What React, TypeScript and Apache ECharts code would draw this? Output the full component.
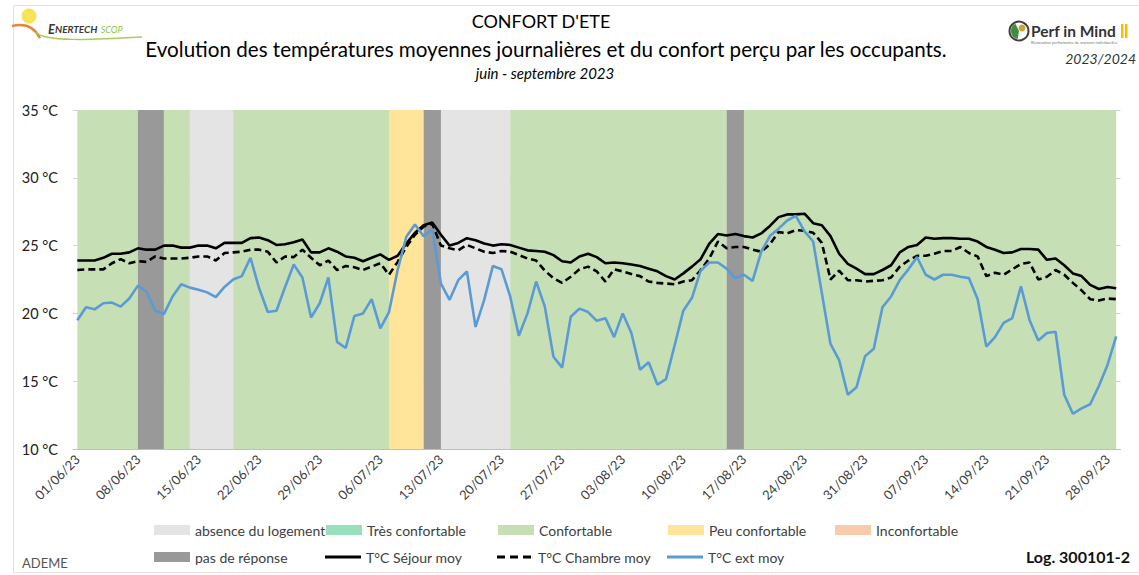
import React, { useEffect, useRef } from "react";
import * as echarts from "echarts";

// ---- data ----
const START = Date.UTC(2023, 5, 1);
const DAY_COUNT = 121;
const categories: string[] = Array.from({ length: DAY_COUNT }, (_, i) => {
  const d = new Date(START + i * 86400000);
  const dd = String(d.getUTCDate()).padStart(2, "0");
  const mm = String(d.getUTCMonth() + 1).padStart(2, "0");
  return `${dd}/${mm}/23`;
});

const sejour = [
  23.9, 23.9, 23.9, 24.1, 24.4, 24.4, 24.5, 24.8, 24.7, 24.7,
  25.0, 25.0, 24.85, 24.85, 25.0, 25.0, 24.8, 25.2, 25.2, 25.2,
  25.55, 25.6, 25.4, 25.05, 25.1, 25.25, 25.45, 24.5, 24.5, 24.8,
  24.55, 24.2, 24.1, 23.85, 24.1, 24.35, 23.95, 24.25, 25.15, 25.95,
  26.5, 26.7, 25.8, 25.0, 25.2, 25.55, 25.4, 25.15, 25.0, 25.1,
  25.05, 24.85, 24.65, 24.6, 24.55, 24.3, 23.85, 23.75, 24.2, 24.4,
  24.15, 23.7, 23.75, 23.7, 23.6, 23.5, 23.3, 23.1, 22.75, 22.5,
  22.95, 23.45, 24.0, 25.15, 25.85, 25.75, 25.85, 25.7, 25.6, 25.9,
  26.45, 27.1, 27.3, 27.3, 27.35, 26.65, 26.5, 25.7, 24.4, 23.65,
  23.3, 22.9, 22.9, 23.2, 23.55, 24.5, 24.9, 25.05, 25.6, 25.5,
  25.55, 25.55, 25.5, 25.5, 25.3, 24.9, 24.7, 24.45, 24.5, 24.75,
  24.75, 24.7, 23.95, 24.05, 23.55, 22.95, 22.75, 22.1, 21.8, 21.95, 21.85,
];
const chambre = [
  23.2, 23.25, 23.25, 23.25, 23.7, 24.0, 23.7, 23.85, 23.8, 24.2,
  24.05, 24.05, 24.05, 24.1, 24.2, 24.2, 23.9, 24.45, 24.5, 24.55,
  24.7, 24.7, 24.55, 23.75, 24.2, 24.15, 24.7, 24.1, 23.55, 23.9,
  23.2, 23.5, 23.4, 23.2, 23.45, 23.7, 22.85, 23.8, 24.9, 25.8,
  26.4, 26.6, 25.0, 24.8, 24.65, 25.05, 24.8, 24.55, 24.45, 24.6,
  24.55, 24.3, 24.05, 23.9, 23.15, 22.6, 22.25, 22.7, 23.25, 23.45,
  23.1, 22.35, 23.25, 23.1, 22.9, 22.75, 22.35, 22.25, 22.2, 22.15,
  22.35, 22.45, 23.2, 24.05, 25.3, 24.8, 24.9, 24.9, 24.7, 24.55,
  25.1, 26.0, 25.9, 26.15, 26.1, 25.95, 25.2, 22.5, 23.15, 22.45,
  22.45, 22.35, 22.4, 22.45, 22.65, 23.45, 23.9, 24.25, 24.25, 24.4,
  24.6, 24.6, 24.9, 24.45, 24.2, 22.75, 23.0, 22.85, 23.25, 23.65,
  23.75, 22.5, 22.7, 23.2, 22.85, 22.25, 21.7, 21.05, 20.95, 21.1, 21.05,
];
const exterieur = [
  19.5, 20.45, 20.3, 20.75, 20.8, 20.5, 21.1, 22.05, 21.6, 20.2,
  19.95, 21.25, 22.15, 21.9, 21.75, 21.55, 21.2, 21.95, 22.5, 22.75,
  24.1, 21.85, 20.1, 20.2, 21.95, 23.6, 22.65, 19.7, 20.75, 22.65,
  17.9, 17.45, 19.8, 20.0, 21.05, 18.9, 20.1, 23.2, 25.65, 26.55,
  25.7, 26.2, 22.2, 21.0, 22.45, 23.1, 19.0, 21.0, 23.5, 23.25,
  21.25, 18.35, 20.0, 22.35, 20.5, 16.8, 16.0, 19.75, 20.35, 20.1,
  19.45, 19.65, 18.25, 20.0, 18.55, 15.85, 16.4, 14.75, 15.15, 17.65,
  20.2, 21.15, 23.15, 23.75, 23.75, 23.3, 22.6, 22.85, 22.4, 24.55,
  25.7, 26.25, 26.85, 27.2, 26.05, 25.3, 21.5, 17.75, 16.55, 14.0,
  14.55, 16.85, 17.4, 20.45, 21.25, 22.45, 23.25, 24.15, 22.85, 22.5,
  22.85, 22.85, 22.7, 22.6, 21.05, 17.55, 18.25, 19.3, 19.65, 22.0,
  19.5, 18.0, 18.55, 18.65, 14.0, 12.6, 13.0, 13.3, 14.65, 16.2, 18.3,
];

// comfort bands (from date -> to date)
const bandTypes = [
  "Confortable", "pas de réponse", "Confortable", "absence du logement", "Confortable",
  "Peu confortable", "pas de réponse", "absence du logement", "Confortable", "pas de réponse", "Confortable",
];
const bandStarts = [
  "01/06/23", "08/06/23", "11/06/23", "14/06/23", "19/06/23",
  "07/07/23", "11/07/23", "13/07/23", "21/07/23", "15/08/23", "17/08/23",
];
const bandEnds = [
  "08/06/23", "11/06/23", "14/06/23", "19/06/23", "07/07/23",
  "11/07/23", "13/07/23", "21/07/23", "15/08/23", "17/08/23", "29/09/23",
];

const yTicks = { min: 10, max: 35, interval: 5 };

const comfortNames = [
  "absence du logement", "Très confortable", "Confortable", "Peu confortable", "Inconfortable", "pas de réponse",
];
const comfortColors = ["#E4E4E4", "#9ADFBC", "#C6DFB5", "#FFE599", "#F8CBAD", "#999999"];

const FONT = 'Lato, "Noto Sans", "DejaVu Sans", sans-serif';
const TXT = "#404040";

const SOLID_ICON = "path://M0,0H36V3H0Z";
const DASH_ICON = "path://M0,0H8V3H0Z M13,0H21V3H13Z M26,0H34V3H26Z M35.9,0H36V3H35.9Z";

export default function App() {
  const ref = useRef<HTMLDivElement>(null);
  useEffect(() => {
    document.body.style.margin = "0";
    if (!ref.current) return;
    const chart = echarts.init(ref.current, undefined, { renderer: "svg" });

    const bandSeries = comfortNames.map((name, k) => ({
      name,
      type: "line",
      z: -1,
      data: [] as number[],
      symbol: "none",
      itemStyle: { color: comfortColors[k] },
      lineStyle: { color: comfortColors[k] },
      markArea: {
        silent: true,
        itemStyle: { color: comfortColors[k], opacity: 1 },
        data: bandTypes
          .map((t, j) => ({ t, j }))
          .filter((o) => o.t === name)
          .map((o) => [{ xAxis: bandStarts[o.j] }, { xAxis: bandEnds[o.j] }]),
      },
    }));

    const legendPos: Record<string, [number, number]> = {
      "absence du logement": [154, 523],
      "Très confortable": [326, 523],
      Confortable: [498, 523],
      "Peu confortable": [668, 523],
      Inconfortable: [835, 523],
      "pas de réponse": [154, 550],
      "T°C Séjour moy": [325, 550],
      "T°C Chambre moy": [497, 550],
      "T°C ext moy": [667, 550],
    };
    const lineIcons: Record<string, string> = {
      "T°C Séjour moy": SOLID_ICON,
      "T°C Chambre moy": DASH_ICON,
      "T°C ext moy": SOLID_ICON,
    };
    const legends = Object.keys(legendPos).map((n) => {
      const isBand = comfortNames.includes(n);
      return {
        data: [n],
        left: legendPos[n][0],
        top: legendPos[n][1],
        padding: 0,
        itemWidth: 36,
        itemHeight: isBand ? 10 : 3,
        icon: isBand ? "rect" : lineIcons[n],
        textStyle: { fontFamily: FONT, fontSize: 14, color: TXT },
        selectedMode: false,
      };
    });

    chart.setOption({
      animation: false,
      grid: { left: 73, top: 110, width: 1047.5, height: 339, containLabel: false },
      legend: legends,
      xAxis: {
        type: "category",
        data: categories,
        boundaryGap: true,
        axisLine: { lineStyle: { color: "#BFBFBF" } },
        axisTick: { interval: 6, length: 5, lineStyle: { color: "#BFBFBF" } },
        axisLabel: {
          interval: 6,
          rotate: 45,
          margin: 8,
          fontFamily: FONT,
          fontSize: 13,
          color: TXT,
        },
        splitLine: { show: false },
      },
      yAxis: {
        type: "value",
        min: yTicks.min,
        max: yTicks.max,
        interval: yTicks.interval,
        axisLine: { show: false },
        axisTick: { show: false },
        axisLabel: { formatter: "{value} °C", fontFamily: FONT, fontSize: 14.5, color: "#202020", margin: 15 },
        splitLine: { lineStyle: { color: "rgba(90,90,90,0.28)", width: 1 } },
      },
      series: [
        ...bandSeries,
        {
          name: "T°C Séjour moy",
          type: "line",
          data: sejour,
          symbol: "none",
          lineStyle: { color: "#000000", width: 2.6 },
          itemStyle: { color: "#000000" },
        },
        {
          name: "T°C Chambre moy",
          type: "line",
          data: chambre,
          symbol: "none",
          lineStyle: { color: "#000000", width: 2.6, type: [7, 4] },
          itemStyle: { color: "#000000" },
        },
        {
          name: "T°C ext moy",
          type: "line",
          data: exterieur,
          symbol: "none",
          lineStyle: { color: "#5B9BD5", width: 2.6 },
          itemStyle: { color: "#5B9BD5" },
        },
      ],
      graphic: [
        { type: "rect", shape: { x: 13.5, y: 5.5, width: 1140, height: 567 }, style: { fill: "none", stroke: "#E2E2E2", lineWidth: 1 }, silent: true },
        // titles
        { type: "text", x: 541, y: 21, style: { text: "CONFORT D'ETE", fontFamily: FONT, fontSize: 18, fill: "#000", textAlign: "center", textVerticalAlign: "middle" } },
        { type: "text", x: 546, y: 49, style: { text: "Evolution des températures moyennes journalières et du confort perçu par les occupants.", fontFamily: FONT, fontSize: 20.6, fill: "#000", textAlign: "center", textVerticalAlign: "middle" } },
        { type: "text", x: 545, y: 73, style: { text: "juin - septembre 2023", fontFamily: FONT, fontSize: 15, fontStyle: "italic", fill: "#000", textAlign: "center", textVerticalAlign: "middle" } },
        // Enertech logo
        { type: "bezierCurve", shape: { x1: 12, y1: 26, x2: 40, y2: 38, cpx1: 28, cpy1: 22, cpx2: 36, cpy2: 30 }, style: { stroke: "#E9853A", lineWidth: 2.5, fill: "none" } },
        { type: "circle", shape: { cx: 29, cy: 16, r: 7.5 }, style: { fill: "#F6E35A" } },
        { type: "bezierCurve", shape: { x1: 36, y1: 32, x2: 142, y2: 37, cpx1: 44, cpy1: 42, cpx2: 90, cpy2: 40 }, style: { stroke: "#A9CD5B", lineWidth: 1.5, fill: "none" } },
        { type: "text", x: 48, y: 29, style: { text: "{a|E}{b|NERTECH} {c|SCOP}", textVerticalAlign: "middle", rich: {
          a: { fontFamily: FONT, fontSize: 13, fontWeight: "bold", fontStyle: "italic", fill: "#3A3A3A" },
          b: { fontFamily: FONT, fontSize: 10, fontWeight: "bold", fontStyle: "italic", fill: "#3A3A3A" },
          c: { fontFamily: FONT, fontSize: 9, fontStyle: "italic", fill: "#8DC63F" },
        } } },
        // Perf in Mind logo
        { type: "circle", shape: { cx: 1019, cy: 31, r: 9.5 }, style: { fill: "#FFFFFF", stroke: "#3E3E3E", lineWidth: 2 } },
        { type: "sector", shape: { cx: 1019, cy: 31, r: 8, r0: 0, startAngle: Math.PI * 0.55, endAngle: Math.PI * 1.35 }, style: { fill: "#3E8E3E" } },
        { type: "circle", shape: { cx: 1022, cy: 28, r: 3.5 }, style: { fill: "#C9A63A" } },
        { type: "text", x: 1031, y: 31, style: { text: "Perf in Mind", fontFamily: FONT, fontSize: 15.5, fontWeight: "bold", fill: "#333333", textVerticalAlign: "middle" } },
        { type: "rect", shape: { x: 1121, y: 24, width: 2.5, height: 14 }, style: { fill: "#F2C200" } },
        { type: "rect", shape: { x: 1125, y: 24, width: 2.5, height: 14 }, style: { fill: "#F2C200" } },
        { type: "text", x: 1031, y: 42, style: { text: "Rénovation performante de maisons individuelles", fontFamily: FONT, fontSize: 4, fill: "#777", textVerticalAlign: "middle" } },
        { type: "text", x: 1136, y: 58, style: { text: "2023/2024", fontFamily: FONT, fontSize: 14, fontStyle: "italic", fill: "#333", textAlign: "right", textVerticalAlign: "middle" } },
        // footer
        { type: "text", x: 22, y: 563, style: { text: "ADEME", fontFamily: FONT, fontSize: 13, fill: "#555", textVerticalAlign: "middle" } },
        { type: "text", x: 1130, y: 556, style: { text: "Log. 300101-2", fontFamily: FONT, fontSize: 16, fontWeight: "bold", fill: "#111", textAlign: "right", textVerticalAlign: "middle" } },
      ],
    });
    return () => chart.dispose();
  }, []);
  return <div ref={ref} style={{ width: 1139, height: 575 }} />;
}
